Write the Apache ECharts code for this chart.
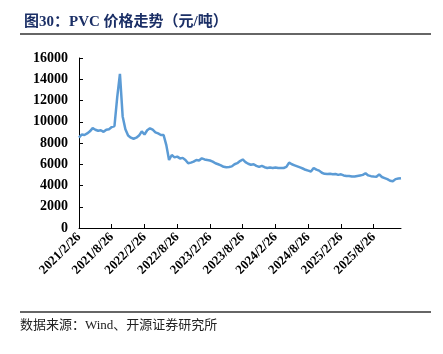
<!DOCTYPE html>
<html>
<head>
<meta charset="utf-8">
<script src="https://cdn.jsdelivr.net/npm/echarts@6/dist/echarts.min.js"></script>
<style>
  html, body { margin: 0; padding: 0; background: #fff; }
  #main { width: 443px; height: 354px; }
</style>
</head>
<body>
<div id="main"></div>
<script>
// 半月一个点，从 2021/2/26 到 2026/1/26
const startYear = 2021, startMonth = 2;
const categories = [];
for (let i = 0; i < 119; i++) {
  const mIdx = Math.floor(i / 2);
  let y = startYear + Math.floor((startMonth - 1 + mIdx) / 12);
  let m = (startMonth - 1 + mIdx) % 12 + 1;
  if (i % 2 === 0) {
    categories.push(y + '/' + m + '/26');
  } else {
    let m2 = m + 1, y2 = y;
    if (m2 > 12) { m2 = 1; y2 += 1; }
    categories.push(y2 + '/' + m2 + '/11');
  }
}

// PVC 价格（元/吨）
const prices = [
  8500, 8800, 8750, 8900, 9100, 9400, 9250, 9150, 9200, 9050,
  9250, 9300, 9500, 9600, 12300, 14500, 10500, 9300, 8700, 8500,
  8400, 8500, 8700, 9100, 8800, 9200, 9380, 9250, 9000, 8900,
  8750, 8750, 7800, 6400, 6870, 6650, 6720, 6550, 6600, 6400,
  6090, 6150, 6250, 6400, 6350, 6560, 6450, 6400, 6350, 6250,
  6090, 6000, 5900, 5760, 5710, 5750, 5800, 6000, 6100, 6300,
  6450, 6200, 6050, 5950, 6000, 5850, 5750, 5850, 5720, 5650,
  5700, 5650, 5700, 5650, 5650, 5650, 5750, 6150, 6000, 5900,
  5800, 5700, 5600, 5480, 5400, 5320, 5650, 5500, 5400, 5200,
  5100, 5080, 5100, 5050, 5080, 5000, 5050, 4950, 4900, 4900,
  4850, 4850, 4900, 4950, 5000, 5150, 4950, 4880, 4850, 4830,
  5050, 4800, 4700, 4600, 4450, 4400, 4600, 4650, 4680
];

const yTicks = [0, 2000, 4000, 6000, 8000, 10000, 12000, 14000, 16000];
const xTickLabels = ['2021/2/26', '2021/8/26', '2022/2/26', '2022/8/26', '2023/2/26',
  '2023/8/26', '2024/2/26', '2024/8/26', '2025/2/26', '2025/8/26'];

const myChart = echarts.init(document.getElementById('main'));

const option = {
  animation: false,
  title: {
    text: '图30：PVC 价格走势（元/吨）',
    left: 19,
    top: 10,
    textStyle: {
      color: '#1b2f66',
      fontSize: 15,
      fontWeight: 'bold',
      fontFamily: '"Liberation Serif", "Noto Sans CJK SC", serif'
    }
  },
  graphic: [
    { type: 'line', shape: { x1: 20, y1: 34, x2: 431, y2: 34 }, style: { stroke: '#333', lineWidth: 1.5 } },
    { type: 'line', shape: { x1: 20, y1: 312, x2: 431, y2: 312 }, style: { stroke: '#333', lineWidth: 1.5 } },
    {
      type: 'text', left: 20, top: 319,
      style: {
        text: '数据来源：Wind、开源证券研究所',
        fill: '#222',
        font: '13px "Liberation Serif", "Noto Sans CJK SC", serif'
      }
    }
  ],
  grid: { left: 79, right: 42, top: 58, bottom: 126 },
  xAxis: {
    type: 'category',
    data: categories,
    boundaryGap: false,
    axisLine: { lineStyle: { color: '#000', width: 1 } },
    axisTick: { inside: true, interval: 11, length: 4, lineStyle: { color: '#000' } },
    axisLabel: {
      interval: 11,
      rotate: 45,
      margin: 7,
      color: '#000',
      fontSize: 13,
      fontWeight: 'bold',
      fontFamily: '"Liberation Serif", serif',
      formatter: (v, i) => xTickLabels[i / 12] || v
    }
  },
  yAxis: {
    type: 'value',
    min: yTicks[0],
    max: yTicks[yTicks.length - 1],
    interval: 2000,
    splitLine: { show: false },
    axisLine: { show: true, lineStyle: { color: '#000', width: 1 } },
    axisTick: { show: true, inside: true, length: 4, lineStyle: { color: '#000' } },
    axisLabel: {
      margin: 11,
      color: '#000',
      fontSize: 14,
      fontWeight: 'bold',
      fontFamily: '"Liberation Serif", serif',
      formatter: v => String(v)
    }
  },
  series: [
    {
      type: 'line',
      data: prices,
      showSymbol: false,
      lineStyle: { color: '#5b9bd5', width: 2.5 }
    }
  ]
};

myChart.setOption(option);
</script>
</body>
</html>
